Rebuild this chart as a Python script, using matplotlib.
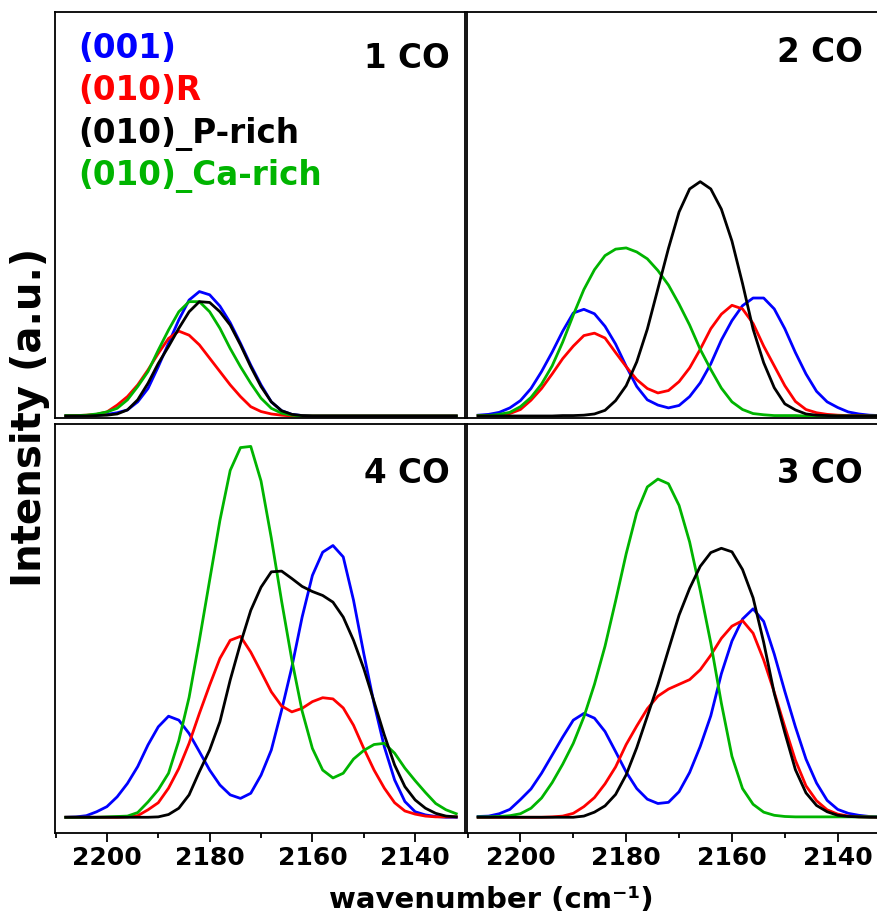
import matplotlib
matplotlib.use("Agg")
import matplotlib.pyplot as plt
from matplotlib.ticker import MultipleLocator, NullLocator

plt.rcParams['font.family'] = ['DejaVu Sans']
plt.rcParams['font.weight'] = 'bold'

# wavenumber grid (cm-1), shared by every curve
wavenumber = [2208, 2206, 2204, 2202, 2200, 2198, 2196, 2194, 2192, 2190,
              2188, 2186, 2184, 2182, 2180, 2178, 2176, 2174, 2172, 2170,
              2168, 2166, 2164, 2162, 2160, 2158, 2156, 2154, 2152, 2150,
              2148, 2146, 2144, 2142, 2140, 2138, 2136, 2134, 2132]

series_names = ['(001)', '(010)R', '(010)_P-rich', '(010)_Ca-rich']
series_colors = ['#0000ff', '#ff0000', '#000000', '#00b400']

# 1 CO
co1_001 = [0, 0, 0.1, 0.2, 0.4, 0.8, 1.5, 3.5, 6.8, 12.2, 18.0, 23.8, 28.7, 30.8, 30.0, 27.2,
           23.1, 18.0, 12.6, 7.7, 3.5, 1.3, 0.4, 0.1, 0, 0, 0, 0, 0, 0, 0, 0, 0, 0, 0, 0, 0, 0, 0]
co1_010R = [0, 0.1, 0.2, 0.4, 1.0, 2.7, 4.8, 7.7, 11.4, 15.5, 19.2, 21.0, 20.0, 17.6, 14.3, 11.0,
            7.7, 4.8, 2.3, 1.1, 0.5, 0.2, 0, 0, 0, 0, 0, 0, 0, 0, 0, 0, 0, 0, 0, 0, 0, 0, 0]
co1_Prich = [0, 0, 0, 0.1, 0.2, 0.5, 1.5, 4.0, 8.1, 13.0, 17.2, 21.7, 25.8, 28.3, 28.1, 25.8,
             22.5, 17.6, 12.2, 7.3, 3.5, 1.3, 0.4, 0.1, 0, 0, 0, 0, 0, 0, 0, 0, 0, 0, 0, 0, 0, 0, 0]
co1_Carich = [0.1, 0.1, 0.2, 0.5, 1.0, 1.9, 4.0, 7.3, 11.0, 16.3, 21.3, 25.8, 28.3, 28.3, 25.8, 21.7,
              16.7, 12.2, 8.1, 4.4, 1.9, 0.7, 0.2, 0, 0, 0, 0, 0, 0, 0, 0, 0, 0, 0, 0, 0, 0, 0, 0]

# 2 CO
co2_001 = [0.2, 0.4, 0.9, 2.0, 3.8, 6.8, 11.0, 15.8, 21.0, 25.5, 26.4, 25.3, 22.2, 17.8, 12.3, 7.3,
           4.0, 2.7, 2.0, 2.6, 4.8, 8.2, 12.9, 18.8, 23.6, 27.3, 29.2, 29.2, 26.5, 21.6, 15.7, 10.4,
           6.1, 3.5, 2.1, 1.0, 0.5, 0.2, 0.1]
co2_010R = [0.1, 0.1, 0.2, 0.6, 1.6, 3.9, 6.8, 10.4, 14.2, 17.3, 19.9, 20.5, 19.3, 15.7, 12.2, 9.0,
            6.8, 5.7, 6.3, 8.5, 11.9, 16.5, 21.6, 25.2, 27.4, 26.5, 22.9, 17.3, 12.4, 7.5, 3.6, 1.6,
            0.8, 0.4, 0.2, 0.1, 0.1, 0, 0]
co2_Prich = [0, 0, 0, 0, 0, 0, 0, 0, 0.1, 0.1, 0.2, 0.5, 1.4, 3.8, 7.5, 13.4,
             21.5, 31.5, 41.5, 50.5, 56.2, 58.0, 56.2, 51.2, 43.3, 32.8, 21.5, 13.2, 7.0, 3.0, 1.5, 0.5,
             0.2, 0.1, 0, 0, 0, 0, 0]
co2_Carich = [0.1, 0.1, 0.4, 0.9, 2.3, 4.6, 7.9, 12.4, 18.3, 25.0, 31.3, 36.2, 39.7, 41.3, 41.6, 40.6,
              38.9, 36.0, 32.4, 27.7, 22.5, 16.5, 11.5, 6.9, 3.5, 1.6, 0.6, 0.3, 0.1, 0.1, 0.1, 0,
              0, 0, 0, 0, 0, 0, 0]

# 3 CO
co3_001 = [0.2, 0.3, 0.9, 2.0, 4.5, 7.2, 11.2, 15.8, 20.4, 24.7, 26.4, 25.2, 21.8, 16.7, 11.5, 7.3,
           4.6, 3.5, 3.8, 6.5, 11.4, 18.0, 25.8, 36.5, 44.8, 50.4, 53.0, 49.8, 41.5, 32.0, 23.0, 14.8,
           8.7, 4.3, 2.0, 1.0, 0.5, 0.2, 0.1]
co3_010R = [0, 0, 0, 0, 0, 0, 0, 0.1, 0.3, 1.0, 2.7, 5.0, 8.5, 12.8, 18.5, 23.2,
            27.6, 30.8, 32.6, 33.8, 35.0, 37.5, 41.2, 45.5, 48.6, 50.0, 46.8, 40.0, 31.8, 23.0, 14.5, 8.0,
            4.2, 1.9, 0.8, 0.3, 0.1, 0.1, 0]
co3_Prich = [0, 0, 0, 0, 0, 0, 0, 0, 0, 0, 0.3, 1.3, 2.9, 5.8, 10.8, 17.7,
             25.7, 33.7, 42.6, 51.4, 58.2, 63.8, 67.3, 68.4, 67.5, 63.0, 55.8, 44.5, 31.5, 21.5, 12.1, 6.2,
             3.0, 1.4, 0.5, 0.2, 0.1, 0, 0]
co3_Carich = [0.1, 0.1, 0.2, 0.4, 0.9, 2.3, 4.9, 8.8, 13.5, 18.8, 25.5, 33.8, 43.5, 55.0, 67.0, 77.5,
              84.0, 86.0, 84.8, 79.3, 70.0, 57.7, 44.3, 29.0, 15.5, 7.3, 3.3, 1.3, 0.5, 0.2, 0.1, 0.1,
              0.1, 0.1, 0.1, 0.1, 0.1, 0.1, 0.1]

# 4 CO
co4_001 = [0, 0.1, 0.4, 1.4, 2.7, 5.2, 8.6, 12.9, 18.4, 23.0, 25.7, 24.7, 21.3, 16.7, 12.0, 8.2,
           5.7, 4.8, 6.1, 10.7, 17.1, 27.2, 38.2, 50.9, 61.5, 67.4, 69.1, 66.2, 55.2, 41.6, 28.9, 17.9,
           9.5, 4.0, 1.4, 0.6, 0.2, 0, 0]
co4_010R = [0, 0, 0, 0, 0, 0, 0.1, 0.4, 1.9, 3.7, 7.4, 12.4, 18.8, 26.4, 33.6, 40.4,
            45.0, 46.0, 42.0, 37.0, 31.9, 28.3, 26.8, 27.7, 29.4, 30.4, 30.1, 27.8, 23.4, 17.5, 12.0, 7.4,
            3.7, 1.6, 0.8, 0.3, 0.1, 0.1, 0.1]
co4_Prich = [0, 0, 0, 0, 0, 0, 0, 0, 0, 0.1, 0.7, 2.3, 5.7, 11.6, 17.1, 24.3,
             34.9, 44.2, 52.6, 58.5, 62.4, 62.6, 60.7, 58.7, 57.4, 56.4, 54.7, 50.9, 45.0, 37.8, 29.4, 20.9,
             13.3, 7.8, 4.4, 2.3, 1.0, 0.3, 0.1]
co4_Carich = [0, 0, 0, 0, 0.1, 0.2, 0.3, 1.2, 3.9, 7.0, 11.2, 19.5, 30.5, 45.0, 60.3, 75.5,
              88.2, 94.0, 94.3, 85.5, 71.0, 55.0, 40.0, 27.0, 17.5, 12.0, 10.0, 11.2, 14.8, 17.0, 18.5, 18.8,
              16.3, 12.5, 9.3, 6.3, 3.5, 1.9, 0.9]

W, H = 877, 919
fig = plt.figure(figsize=(W / 100, H / 100), dpi=100)


def px_axes(x0, y0, x1, y1):
    # axes rectangle given in image pixels (top-left origin)
    return fig.add_axes([x0 / W, 1 - y1 / H, (x1 - x0) / W, (y1 - y0) / H])


panels = [
    ('1 CO', (55, 12, 465, 418), [co1_001, co1_010R, co1_Carich, co1_Prich], False),
    ('2 CO', (467, 12, 889, 418), [co2_001, co2_010R, co2_Carich, co2_Prich], False),
    ('4 CO', (55, 424, 465, 833), [co4_001, co4_010R, co4_Carich, co4_Prich], True),
    ('3 CO', (467, 424, 889, 833), [co3_001, co3_010R, co3_Carich, co3_Prich], True),
]
# drawing order: blue, red, green, black on top
draw_colors = [series_colors[0], series_colors[1], series_colors[3], series_colors[2]]

for label, box, curves, bottom in panels:
    ax = px_axes(*box)
    for ys, c in zip(curves, draw_colors):
        ax.plot(wavenumber, ys, color=c, lw=2.0, solid_joinstyle='round')
    ax.set_xlim(2210.1, 2130.3)
    if bottom:
        ax.set_ylim(-4.0, 100)
    else:
        ax.set_ylim(-0.5, 100)
    ax.yaxis.set_major_locator(NullLocator())
    ax.xaxis.set_major_locator(MultipleLocator(20))
    ax.xaxis.set_minor_locator(MultipleLocator(10))
    ax.tick_params(axis='x', which='major', direction='out', length=6.5, width=1.3,
                   labelsize=18, pad=3)
    ax.tick_params(axis='x', which='minor', direction='out', length=3.5, width=1.3)
    if not bottom:
        ax.tick_params(axis='x', which='both', bottom=False, labelbottom=False)
    for lab in ax.get_xticklabels():
        lab.set_fontweight('bold')
    for sp in ax.spines.values():
        sp.set_linewidth(1.3)
    tx, ty = (450, 68) if box[0] < 100 else (863, 62)
    if bottom:
        ty = 483
    fig.text(tx / W, 1 - ty / H, label, ha='right', va='baseline',
             fontsize=23.5, fontweight='bold')

# legend as coloured text lines
for i, (name, c) in enumerate(zip(series_names, series_colors)):
    fig.text(78 / W, 1 - (58 + 42.3 * i) / H, name, color=c, ha='left', va='baseline',
             fontsize=23.5, fontweight='bold')

fig.text(30 / W, 1 - 417 / H, 'Intensity (a.u.)', rotation=90, ha='center', va='center',
         fontsize=29, fontweight='bold')
fig.text(491 / W, 1 - 900 / H, 'wavenumber (cm\u207b\u00b9)', ha='center', va='center',
         fontsize=21, fontweight='bold')

fig.savefig('out.png', dpi=100)
